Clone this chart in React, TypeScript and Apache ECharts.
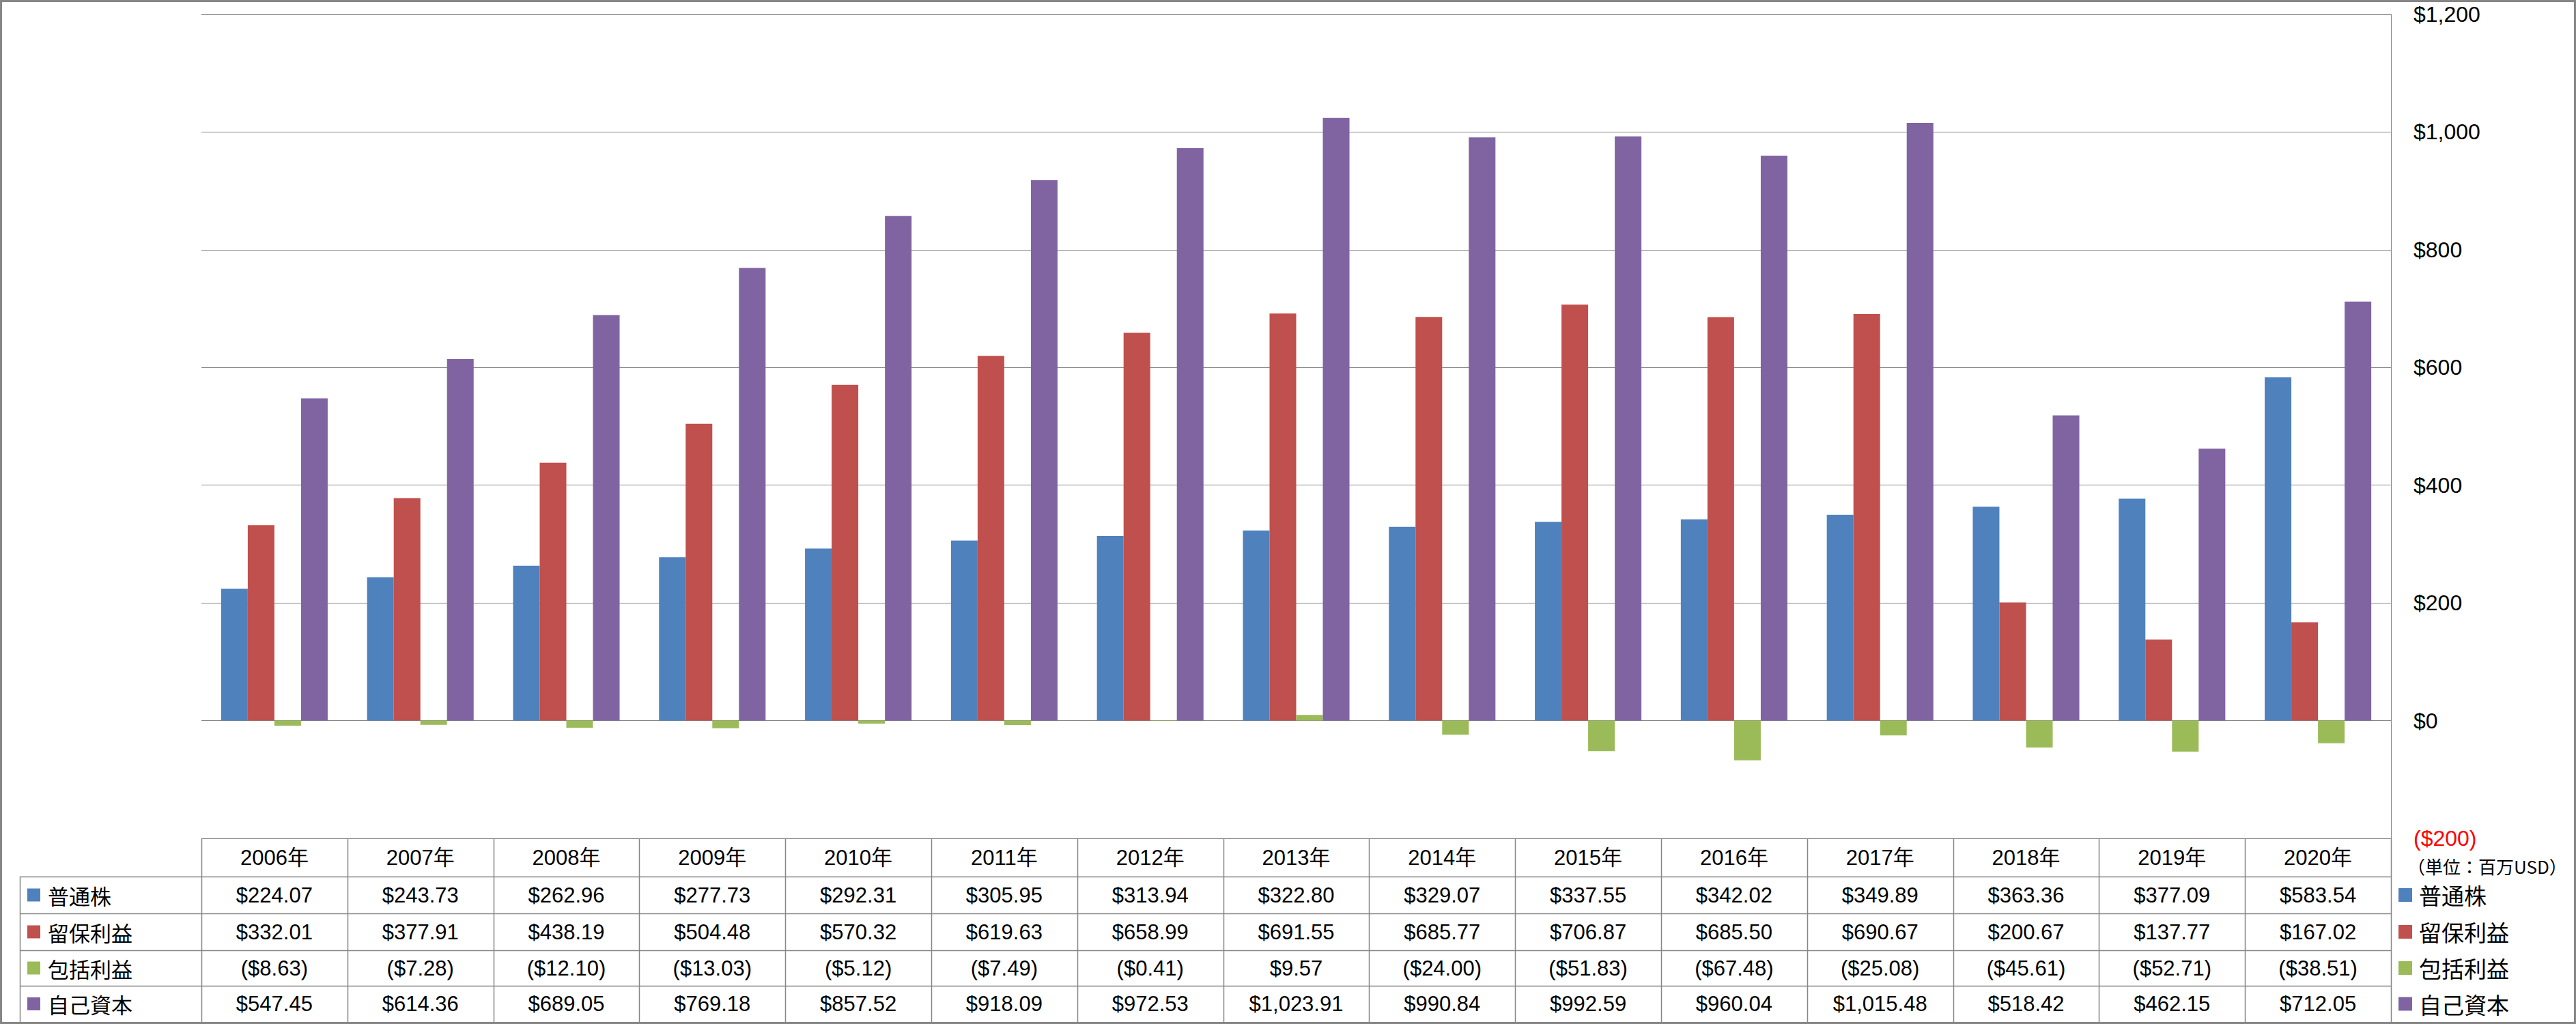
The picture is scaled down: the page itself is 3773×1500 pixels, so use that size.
import React, { useEffect, useRef } from "react";
import * as echarts from "echarts";

const years = ["2006年", "2007年", "2008年", "2009年", "2010年", "2011年", "2012年", "2013年", "2014年", "2015年", "2016年", "2017年", "2018年", "2019年", "2020年"];
const seriesNames = ["普通株", "留保利益", "包括利益", "自己資本"];
const commonStock = [224.07, 243.73, 262.96, 277.73, 292.31, 305.95, 313.94, 322.8, 329.07, 337.55, 342.02, 349.89, 363.36, 377.09, 583.54];
const retainedEarnings = [332.01, 377.91, 438.19, 504.48, 570.32, 619.63, 658.99, 691.55, 685.77, 706.87, 685.5, 690.67, 200.67, 137.77, 167.02];
const comprehensiveIncome = [-8.63, -7.28, -12.1, -13.03, -5.12, -7.49, -0.41, 9.57, -24.0, -51.83, -67.48, -25.08, -45.61, -52.71, -38.51];
const equity = [547.45, 614.36, 689.05, 769.18, 857.52, 918.09, 972.53, 1023.91, 990.84, 992.59, 960.04, 1015.48, 518.42, 462.15, 712.05];
const unitText = "（単位：百万USD）";

const colors = ["#4F81BD", "#C0504D", "#9BBB59", "#8064A2"];
const gray = "#868686";
const NUM_FONT = "'Liberation Sans', 'Noto Sans CJK JP', sans-serif";
const CJK_FONT = "'Noto Sans CJK JP', sans-serif";

const W = 3773;
const H = 1500;
const GRID_LEFT = 295;
const GRID_RIGHT_X = 3502;
const GRID_TOP = 21;
const TABLE_TOP = 1228;
const ROW_LINES = [1284, 1338, 1392, 1444, 1497];
const TABLE_LEFT = 29;

function fmtMoney(v: number): string {
  const s = Math.abs(v).toLocaleString("en-US", { minimumFractionDigits: 2, maximumFractionDigits: 2 });
  return v < 0 ? `($${s})` : `$${s}`;
}
function fmtAxis(v: number): string {
  const s = Math.abs(v).toLocaleString("en-US");
  return v < 0 ? `($${s})` : `$${s}`;
}

export default function App() {
  const ref = useRef<HTMLDivElement>(null);
  useEffect(() => {
    if (!ref.current) return;
    const chart = echarts.init(ref.current, null, { renderer: "svg", width: W, height: H });
    const allSeries = [commonStock, retainedEarnings, comprehensiveIncome, equity];
    chart.setOption({
      animation: false,
      backgroundColor: "#ffffff",
      grid: {
        left: GRID_LEFT,
        right: W - GRID_RIGHT_X,
        top: GRID_TOP,
        bottom: H - TABLE_TOP,
        containLabel: false,
      },
      xAxis: {
        type: "category",
        data: years,
        axisLine: { show: false },
        axisTick: { show: false },
        axisLabel: {
          show: true,
          margin: 28,
          verticalAlign: "middle",
          fontSize: 31,
          fontFamily: NUM_FONT,
          color: "#000",
        },
      },
      yAxis: {
        type: "value",
        position: "right",
        min: -200,
        max: 1200,
        interval: 200,
        axisLine: { show: true, lineStyle: { color: gray, width: 1 } },
        axisTick: { show: false },
        splitLine: { show: true, lineStyle: { color: gray, width: 1 } },
        axisLabel: {
          margin: 33,
          fontSize: 32,
          fontFamily: NUM_FONT,
          formatter: (v: number) => fmtAxis(v),
          color: (v: any) => (Number(v) < 0 ? "#FF0000" : "#000000"),
        },
      },
      series: allSeries.map((d, i) => ({
        name: seriesNames[i],
        type: "bar",
        data: d,
        barGap: "0%",
        barCategoryGap: "27%",
        itemStyle: { color: colors[i] },
      })),
    });

    const c0 = chart.convertToPixel({ xAxisIndex: 0 }, 0) as number;
    const c1 = chart.convertToPixel({ xAxisIndex: 0 }, 1) as number;
    const colW = c1 - c0;
    const graphics: any[] = [];
    const line = (x1: number, y1: number, x2: number, y2: number, w = 1.5) =>
      graphics.push({ type: "line", shape: { x1, y1, x2, y2 }, style: { stroke: gray, lineWidth: w }, silent: true });

    // table vertical lines
    for (let k = 0; k <= years.length; k++) {
      const x = Math.round(c0 - colW / 2 + k * colW) + 0.5;
      line(x, TABLE_TOP, x, ROW_LINES[4]);
    }
    line(TABLE_LEFT + 0.5, ROW_LINES[0], TABLE_LEFT + 0.5, ROW_LINES[4]);
    for (let r = 0; r < 4; r++) {
      line(TABLE_LEFT, ROW_LINES[r] + 0.5, GRID_RIGHT_X, ROW_LINES[r] + 0.5);
    }
    // table content + right-side legend
    for (let r = 0; r < 4; r++) {
      const cy = (ROW_LINES[r] + ROW_LINES[r + 1]) / 2;
      graphics.push({
        type: "rect",
        shape: { x: 40, y: cy - 9.5, width: 19, height: 19 },
        style: { fill: colors[r] },
        silent: true,
      });
      graphics.push({
        type: "text",
        x: 70,
        y: cy,
        style: { text: seriesNames[r], fontSize: 31, fontFamily: CJK_FONT, fill: "#000", verticalAlign: "middle", align: "left" },
        silent: true,
      });
      graphics.push({
        type: "rect",
        shape: { x: 3513, y: cy - 10, width: 20, height: 20 },
        style: { fill: colors[r] },
        silent: true,
      });
      graphics.push({
        type: "text",
        x: 3543,
        y: cy,
        style: { text: seriesNames[r], fontSize: 33, fontFamily: CJK_FONT, fill: "#000", verticalAlign: "middle", align: "left" },
        silent: true,
      });
      allSeries[r].forEach((v, i) => {
        const cx = chart.convertToPixel({ xAxisIndex: 0 }, i) as number;
        graphics.push({
          type: "text",
          x: cx,
          y: cy,
          style: { text: fmtMoney(v), fontSize: 31, fontFamily: NUM_FONT, fill: "#000", align: "center", verticalAlign: "middle" },
          silent: true,
        });
      });
    }
    // unit text
    graphics.push({
      type: "text",
      x: 3526,
      y: 1268,
      style: { text: unitText, fontSize: 26, fontFamily: CJK_FONT, fill: "#000", align: "left", verticalAlign: "middle" },
      silent: true,
    });
    // outer border
    graphics.push({
      type: "rect",
      shape: { x: 1.5, y: 1.5, width: W - 3, height: H - 3 },
      style: { fill: "none", stroke: gray, lineWidth: 3 },
      silent: true,
    });
    chart.setOption({ graphic: graphics });

    return () => chart.dispose();
  }, []);
  return <div ref={ref} style={{ position: "fixed", left: 0, top: 0, width: W, height: H }} />;
}
